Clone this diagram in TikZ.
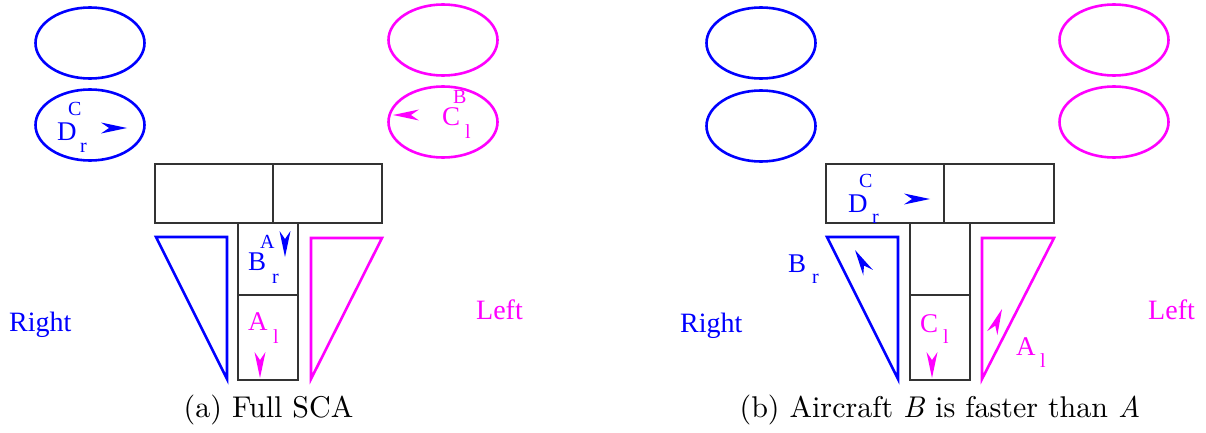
\documentclass[tikz,border=0pt]{standalone}
\usepackage{fontspec}
\usetikzlibrary{shapes.geometric}
\newfontfamily\tms{Liberation Serif}
\newfontfamily\capf{lmroman10-regular}[Extension=.otf,ItalicFont=lmroman10-italic]
\definecolor{myblue}{RGB}{0,0,255}
\definecolor{mymag}{RGB}{255,0,255}
\begin{document}
\begin{tikzpicture}[x=1pt,y=-1pt,
  ell/.style={ellipse,minimum width=109pt,minimum height=71pt,inner sep=0pt,line width=2.6pt},
  frame/.style={draw=black!80,line width=1.3pt},
  tri/.style={line width=2.6pt,line join=miter},
  big/.style={font=\tms\fontsize{27}{30}\selectfont,inner sep=0pt,anchor=base west},
  small/.style={font=\tms\fontsize{20}{23}\selectfont,inner sep=0pt,anchor=base west},
  side/.style={font=\tms\fontsize{28}{32}\selectfont,inner sep=0pt,anchor=base west},
  captext/.style={font=\capf\fontsize{30}{36}\selectfont,inner sep=0pt,anchor=base},
  ahead/.pic={\fill (0,0) -- (-26,5.5) -- (-18,0) -- (-26,-5.5) -- cycle;}
]
\useasboundingbox (0,0) rectangle (1206,433);

% ---------- panel (a) ----------
\node[ell,draw=myblue] (ea1) at (90,43) {};
\node[ell,draw=myblue] (ea2) at (90,125) {};
\node[ell,draw=mymag] (ea3) at (443,40) {};
\node[ell,draw=mymag] (ea4) at (443,122) {};

\draw[frame] (155,164) rectangle (273,223);
\draw[frame] (273,164) rectangle (382,223);
\draw[frame] (238,223) rectangle (298,295);
\draw[frame] (238,295) rectangle (298,380);

\draw[tri,draw=myblue] (156,237) -- (227,237) -- (227,379) -- cycle;
\draw[tri,draw=mymag] (382,238) -- (311,238) -- (311,379) -- cycle;

\node[big,text=myblue] (da) at (57,140) {D};
\node[small,text=myblue] (dsupa) at (68,115) {C};
\node[small,text=myblue] (dsuba) at (80,152) {r};
\pic[myblue] at (127,128) {ahead};

\node[big,text=mymag] (ca) at (442,125) {C};
\node[small,text=mymag] (csupa) at (453,103) {B};
\node[small,text=mymag] (csuba) at (465,138) {l};
\pic[mymag,rotate=180] at (393,115) {ahead};

\node[big,text=myblue] (ba) at (248,270) {B};
\node[small,text=myblue] (bsupa) at (260,248) {A};
\node[small,text=myblue] (bsuba) at (272,283) {r};
\pic[myblue,rotate=-90] at (285,257) {ahead};

\node[big,text=mymag] (aa) at (248,330) {A};
\node[small,text=mymag] (asuba) at (273,343) {l};
\pic[mymag,rotate=-90] at (260,378) {ahead};

\node[side,text=myblue] (righta) at (9,331) {Right};
\node[side,text=mymag] (lefta) at (476,319) {Left};

\node[captext] (capa) at (268.5,417.5) {(a) Full SCA};

% ---------- panel (b) ----------
\node[ell,draw=myblue] (eb1) at (761,43) {};
\node[ell,draw=myblue] (eb2) at (761,126) {};
\node[ell,draw=mymag] (eb3) at (1114,40) {};
\node[ell,draw=mymag] (eb4) at (1114,122) {};

\draw[frame] (826,164) rectangle (944,223);
\draw[frame] (944,164) rectangle (1054,223);
\draw[frame] (910,223) rectangle (970,295);
\draw[frame] (910,295) rectangle (970,380);

\draw[tri,draw=myblue] (827,237) -- (898,237) -- (898,379) -- cycle;
\draw[tri,draw=mymag] (1054,238) -- (982,238) -- (982,379) -- cycle;

\node[big,text=myblue] (db) at (848,212) {D};
\node[small,text=myblue] (dsupb) at (859,187) {C};
\node[small,text=myblue] (dsubb) at (872,223) {r};
\pic[myblue] at (930,199) {ahead};

\node[big,text=myblue] (bb) at (788,272) {B};
\node[small,text=myblue] (bsubb) at (812,283) {r};
\pic[myblue,rotate=120] at (855,250) {ahead};

\node[big,text=mymag] (cb) at (920,332) {C};
\node[small,text=mymag] (csubb) at (943,343) {l};
\pic[mymag,rotate=-90] at (932,378) {ahead};

\node[big,text=mymag] (ab) at (1016,355) {A};
\node[small,text=mymag] (asubb) at (1040,367) {l};
\pic[mymag,rotate=68] at (1002,309) {ahead};

\node[side,text=myblue] (rightb) at (680,332) {Right};
\node[side,text=mymag] (leftb) at (1148,319) {Left};

\node[captext] (capb) at (940,417.5) {(b) Aircraft \textit{B} is faster than \textit{A}};
\end{tikzpicture}
\end{document}
